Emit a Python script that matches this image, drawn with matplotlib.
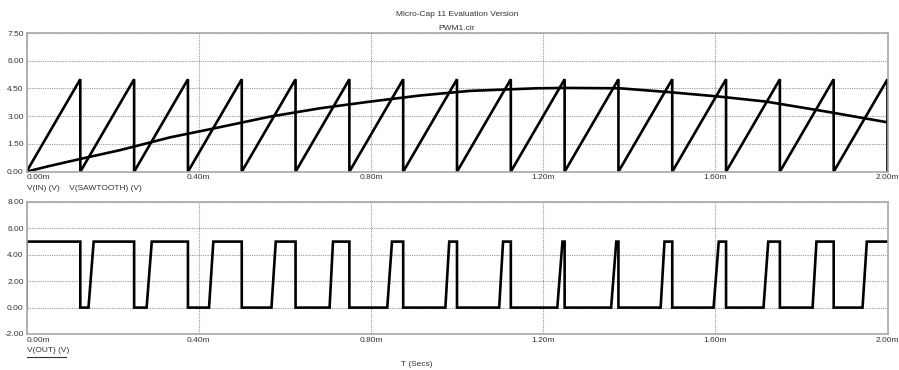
import numpy as np
import matplotlib.pyplot as plt
from matplotlib.lines import Line2D

plt.rcParams['font.family'] = ['Liberation Sans', 'DejaVu Sans']

# Daten (Zeit in ms)
vin_t = [0.0, 0.05, 0.125, 0.218, 0.334, 0.427, 0.566, 0.682, 0.798, 0.914,
         1.030, 1.185, 1.25, 1.378, 1.494, 1.610, 1.718, 1.858, 2.0]
vin_v = [0.0, 0.29, 0.69, 1.17, 1.86, 2.30, 2.98, 3.43, 3.79, 4.12,
         4.37, 4.51, 4.53, 4.51, 4.30, 4.06, 3.79, 3.25, 2.67]

# V(SAWTOOTH): Spitzen (Ruecksprung auf 0 V)
saw_peak_t = [0.125, 0.25, 0.375, 0.5, 0.625, 0.75, 0.875, 1.0,
              1.125, 1.25, 1.375, 1.5, 1.625, 1.75, 1.875, 2.0]
saw_peak_v = [5.0] * 16

# V(OUT): fallende Flanken, Beginn und Ende der steigenden Flanken
out_fall_t = saw_peak_t[:-1]
out_rise0_t = [0.144, 0.279, 0.424, 0.569, 0.704, 0.838, 0.973, 1.098,
               1.233, 1.358, 1.473, 1.596, 1.712, 1.826, 1.942]
out_rise1_t = [0.156, 0.291, 0.434, 0.579, 0.712, 0.849, 0.982, 1.107,
               1.245, 1.370, 1.482, 1.608, 1.723, 1.835, 1.952]
out_high = 5.0
out_low = 0.0

# Kurvenzuege aufbauen
saw_t, saw_v = [0.0], [0.0]
for tp, vp in zip(saw_peak_t, saw_peak_v):
    saw_t += [tp, tp]
    saw_v += [vp, 0.0]

out_t, out_v = [0.0, 0.0], [out_low, out_high]
for tf, r0, r1 in zip(out_fall_t, out_rise0_t, out_rise1_t):
    out_t += [tf, tf, r0, r1]
    out_v += [out_high, out_low, out_low, out_high]
out_t.append(2.0)
out_v.append(out_high)

W, H = 899, 370
fig = plt.figure(figsize=(W / 100, H / 100), dpi=100)

x0, x1 = 26.5, 887.5
ax1 = fig.add_axes([x0 / W, 1 - 171.7 / H, (x1 - x0) / W, (171.7 - 33) / H])
ax2 = fig.add_axes([x0 / W, 1 - 334 / H, (x1 - x0) / W, (334 - 202) / H])

lw = 1.9
ax1.plot(saw_t, saw_v, color='black', lw=lw, solid_joinstyle='miter')
ax1.plot(vin_t, vin_v, color='black', lw=lw)
ax2.plot(out_t, out_v, color='black', lw=lw, solid_joinstyle='miter')

xt = [0.0, 0.4, 0.8, 1.2, 1.6, 2.0]
xtl = ['0.00m', '0.40m', '0.80m', '1.20m', '1.60m', '2.00m']
for ax, yt in [(ax1, np.arange(0, 7.51, 1.5)), (ax2, np.arange(-2, 8.01, 2))]:
    ax.set_xlim(0, 2.0)
    ax.set_ylim(yt[0], yt[-1])
    ax.set_xticks(xt)
    ax.set_xticklabels(xtl)
    ax.set_yticks(yt)
    ax.set_yticklabels(['%.2f' % v for v in yt])
    ax.tick_params(length=0, labelsize=6, colors='#333333', pad=2)
    ax.get_xticklabels()[0].set_ha('left')
    ax.grid(True, color='#9a9a9a', lw=0.8, ls=(0, (1, 1)))
    for s in ax.spines.values():
        s.set_color('#a8a8a8')
        s.set_linewidth(1.2)
    ax.set_axisbelow(True)

tc = '#333333'
fig.text(457 / W, 1 - 15 / H, 'Micro-Cap 11 Evaluation Version', ha='center', va='center', fontsize=6, color=tc)
fig.text(457 / W, 1 - 28 / H, 'PWM1.cir', ha='center', va='center', fontsize=6, color=tc)
fig.text(27 / W, 1 - 189 / H, 'V(IN) (V)    V(SAWTOOTH) (V)', ha='left', va='center', fontsize=6, color=tc)
fig.text(27 / W, 1 - 350 / H, 'V(OUT) (V)', ha='left', va='center', fontsize=6, color=tc)
fig.add_artist(Line2D([27 / W, 66 / W], [1 - 357 / H, 1 - 357 / H], color=tc, lw=0.8))
fig.text(417 / W, 1 - 365 / H, 'T (Secs)', ha='center', va='center', fontsize=6, color=tc)

fig.savefig('out.png', dpi=100)
